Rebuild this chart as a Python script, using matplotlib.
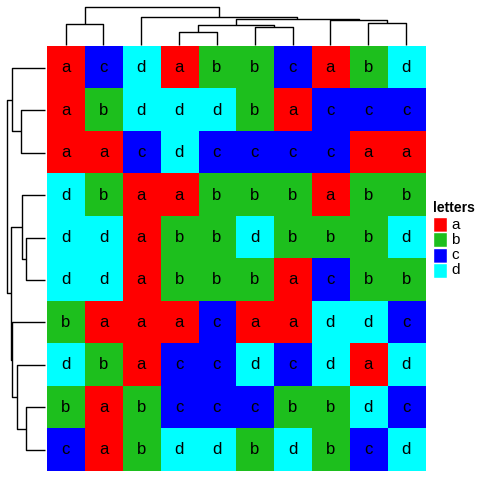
import matplotlib
matplotlib.use('Agg')
import matplotlib.pyplot as plt
import numpy as np
from matplotlib.colors import ListedColormap
from matplotlib.patches import Rectangle

plt.rcParams['font.family'] = ['Liberation Sans', 'DejaVu Sans']

# Data: letter matrix (rows top to bottom)
grid = [
    "acdabbcabd",
    "abdddbaccc",
    "aacdccccaa",
    "dbaabbbabb",
    "ddabbdbbbd",
    "ddabbbacbb",
    "baaacaaddc",
    "dbaccdcdad",
    "babcccbbdc",
    "cabddbdbcd",
]
letters = ['a', 'b', 'c', 'd']
letter_colors = ['#ff0000', '#1dbf1d', '#0000ff', '#00ffff']

# Dendrograms: (left, right, height); leaves are column/row indices
col_tree = ((0, 1, 21), (2, (((3, 4, 12.7), (5, 6, 17.7), 20.3),
                              (7, (8, 9, 21.7), 24.7), 25.7), 28.3), 37.7)
row_tree = ((0, (1, 2, 24), 32.7),
            ((3, (4, 5, 18.7), 22.7), (6, (7, (8, 9, 18.7), 28), 33.3), 34.3), 38)

codes = np.array([[letters.index(ch) for ch in row] for row in grid])
nrow, ncol = codes.shape

W = H = 480.0
fig = plt.figure(figsize=(4.8, 4.8), dpi=100)

# heatmap body
hx0, hx1, hy0, hy1 = 46.7, 425.0, 46.5, 471.0
ax = fig.add_axes([hx0 / W, 1 - hy1 / H, (hx1 - hx0) / W, (hy1 - hy0) / H])
ax.imshow(codes, cmap=ListedColormap(letter_colors), vmin=-0.5, vmax=3.5,
          aspect='auto', extent=(0, ncol, nrow, 0), interpolation='nearest')
for i in range(nrow):
    for j in range(ncol):
        ax.text(j + 0.5, i + 0.5, grid[i][j], ha='center', va='center',
                fontsize=12, color='black')
ax.set_xlim(0, ncol)
ax.set_ylim(nrow, 0)
ax.axis('off')


def draw_tree(axd, node, vertical):
    # returns (position, height)
    if isinstance(node, int):
        return node + 0.5, 0.0
    left, right, h = node
    pl, hl = draw_tree(axd, left, vertical)
    pr, hr = draw_tree(axd, right, vertical)
    xs = [pl, pl, pr, pr]
    ys = [hl, h, h, hr]
    if vertical:
        axd.plot(xs, ys, color='black', lw=1, solid_capstyle='butt')
    else:
        axd.plot(ys, xs, color='black', lw=1, solid_capstyle='butt')
    return (pl + pr) / 2, h


# column dendrogram
axc = fig.add_axes([hx0 / W, 1 - hy0 / H, (hx1 - hx0) / W, hy0 / H])
draw_tree(axc, col_tree, True)
axc.set_xlim(0, ncol)
axc.set_ylim(-1.5, 45)
axc.axis('off')

# row dendrogram
axr = fig.add_axes([0, 1 - hy1 / H, hx0 / W, (hy1 - hy0) / H])
draw_tree(axr, row_tree, False)
axr.set_ylim(nrow, 0)
axr.set_xlim(45, -1.7)
axr.axis('off')

# legend
fig.text(432.5 / W, 1 - 207.5 / H, 'letters', fontsize=10, fontweight='bold',
         ha='left', va='center')
for k, (lab, col) in enumerate(zip(letters, letter_colors)):
    top = 217 + 15.3 * k
    fig.patches.append(Rectangle((432.7 / W, 1 - (top + 15) / H), 14 / W, 15 / H,
                                 transform=fig.transFigure, facecolor=col,
                                 edgecolor='white', lw=1))
    fig.text(451.5 / W, 1 - (top + 7.5) / H, lab, fontsize=11, ha='left', va='center')

fig.savefig('out.png', dpi=100)
